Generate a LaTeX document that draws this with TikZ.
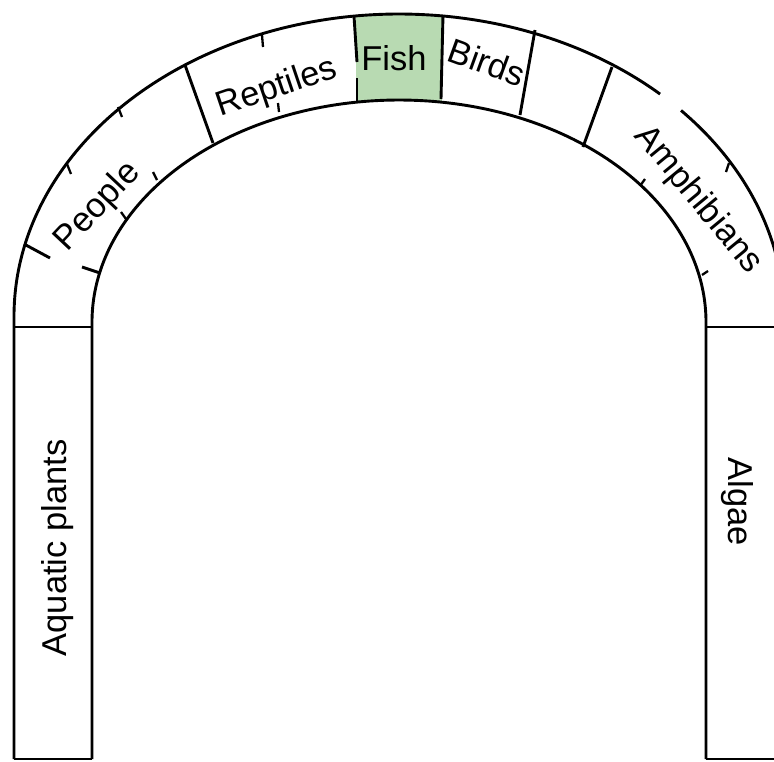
\documentclass[tikz,border=0pt]{standalone}
\usepackage{fontspec}
\setmainfont{Liberation Sans}
\definecolor{fishgreen}{RGB}{184,218,178}
\begin{document}
\begin{tikzpicture}[x=1pt,y=-1pt,
  edge/.style={draw=black, line width=2.9pt, line join=round},
  tickmark/.style={draw=black, line width=2.3pt},
  lab/.style={inner sep=0pt, font=\fontsize{34.5}{40}\selectfont, text=black}]
\useasboundingbox (0,0) rectangle (774,761);
\begin{scope}
\clip (0,0) rectangle (774,761);
% fish fill
\fill[fishgreen] plot[domain=96.4:83.6, samples=30] ({399+385*cos(\x)},{316-302*sin(\x)})
  -- plot[domain=81.95:98.05, samples=30] ({399+307*cos(\x)},{322-222*sin(\x)}) -- cycle;
% outer arc with left column edge
\draw[edge] (14,759) -- plot[domain=180:47.3, samples=150] ({399+385*cos(\x)},{316-302*sin(\x)});
\draw[edge] plot[domain=42.9:0, samples=60] ({399+385*cos(\x)},{316-302*sin(\x)}) -- (784,759);
% inner arc with column edges
\draw[edge] (92,759) -- plot[domain=180:0, samples=180] ({399+307*cos(\x)},{322-222*sin(\x)}) -- (706,759);
% column tops and bottoms
\draw[edge] (14,327) -- (92,327);
\draw[edge] (706,327) -- (784,327);
\draw[edge] (14,759) -- (92,759);
\draw[edge] (706,759) -- (784,759);
% dividers
\draw[edge] (24,244) -- (50,258);
\draw[edge] (82,267) -- (100,273);
\draw[edge] (185,65) -- (213,143);
\draw[edge] (354,16) -- (357,62);
\draw[edge] (357,78) -- (357,101);
\draw[edge] (443,15) -- (441,99);
\draw[edge] (535,30) -- (520,115);
\draw[edge] (612,67) -- (583,147);
% tick marks
\draw[tickmark] (67,164) -- (71,174);
\draw[tickmark] (118,107) -- (122,117);
\draw[tickmark] (262,35) -- (263,47);
\draw[tickmark] (729,163) -- (726,172);
\draw[tickmark] (157,180) -- (153,172);
\draw[tickmark] (126,219) -- (121,212);
\draw[tickmark] (279,112) -- (278,103);
\draw[tickmark] (640,186) -- (645,179);
\draw[tickmark] (702,275) -- (708,271);
\end{scope}
% labels
\node[lab, rotate=46.8] (people) at (98,207) {People};
\node[lab, rotate=18.7] (reptiles) at (277,88) {Reptiles};
\node[lab] (fish) at (394,58) {Fish};
\node[lab, rotate=-20] (birds) at (487,62) {Birds};
\node[lab, rotate=-50.5] (amph) at (698,200) {Amphibians};
\node[lab, rotate=-90] (algae) at (737,502) {Algae};
\node[lab, rotate=90] (aquatic) at (58,548) {Aquatic plants};
\end{tikzpicture}
\end{document}
